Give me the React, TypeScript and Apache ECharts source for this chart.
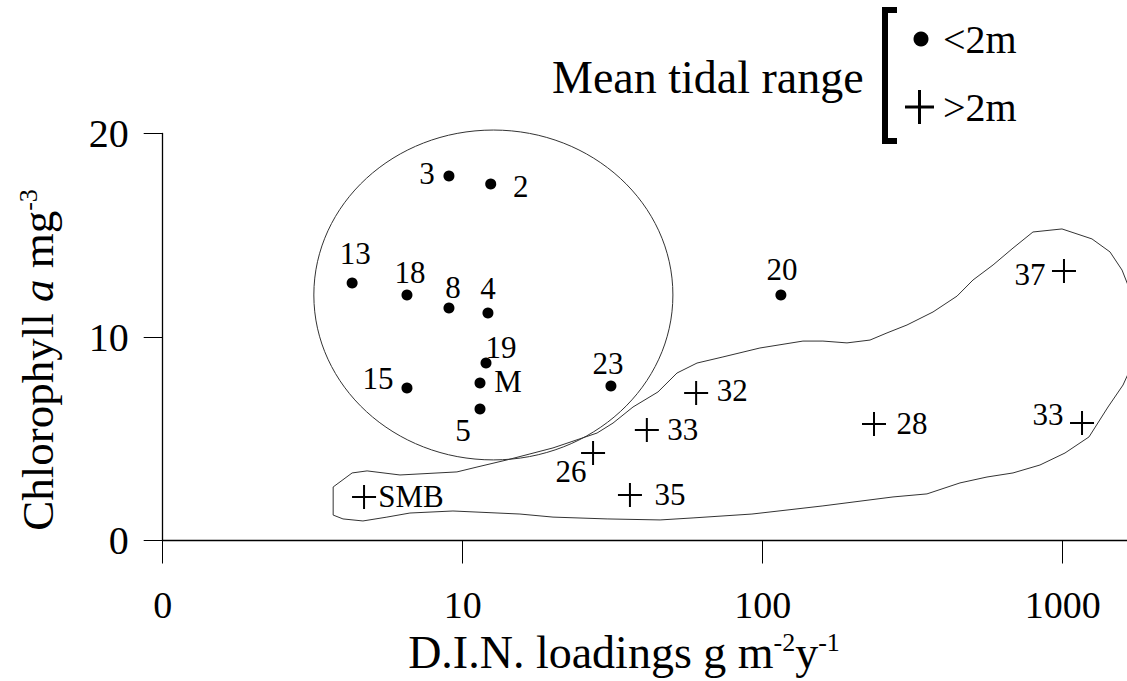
import React, { useEffect, useRef } from "react";
import * as echarts from "echarts";

// ---- data ----
const lowTideNames = ["3", "2", "13", "18", "8", "4", "19", "M", "15", "5", "23", "20"];
const lowTideDIN = [9.0, 12.4, 4.28, 6.52, 9.0, 12.14, 11.96, 11.42, 6.52, 11.42, 31.2, 115];
const lowTideChl = [17.91, 17.52, 12.65, 12.06, 11.43, 11.18, 8.72, 7.74, 7.49, 6.46, 7.59, 12.06];

const highTideNames = ["37", "32", "33", "28", "33", "26", "35", "SMB"];
const highTideDIN = [1010, 60, 41.1, 235, 1160, 27.2, 36.1, 4.69];
const highTideChl = [13.24, 7.25, 5.43, 5.72, 5.77, 4.3, 2.24, 2.14];

// outline enclosing the >2m estuaries
const envelopeDIN = [3.7, 4.28, 4.8, 6.18, 9.57, 11.16, 14.05, 20.0, 28.04, 31.7, 36.96, 44.77, 51.8, 60.4, 73.7, 97.9, 136.2, 158.8, 191, 227.9, 259.6, 302.7, 369.6, 444.4, 502.3, 586, 683, 796, 994.7, 1252, 1438, 1577, 1675, 1714, 1675, 1589, 1416, 1224, 1018, 840, 683, 559.4, 454.7, 352.9, 271.9, 158.8, 92.1, 58.6, 45.5, 30.3, 20.0, 15.52, 9.28, 6.67, 5.59, 4.65, 3.99, 3.7, 3.7];
const envelopeChl = [2.63, 3.32, 3.42, 3.22, 3.37, 3.61, 3.96, 4.55, 5.28, 5.77, 6.56, 7.3, 8.23, 8.72, 9.02, 9.46, 9.8, 9.8, 9.71, 9.85, 10.2, 10.59, 11.23, 12.01, 12.8, 13.54, 14.37, 15.16, 15.31, 14.82, 14.18, 13.29, 12.31, 10.34, 8.38, 7.64, 6.56, 5.09, 4.3, 3.71, 3.32, 3.12, 2.83, 2.29, 2.14, 1.7, 1.3, 1.11, 1.01, 1.06, 1.15, 1.3, 1.45, 1.35, 1.15, 0.96, 1.06, 1.25, 2.63];

// ellipse enclosing the <2m estuaries (bounds in data units)
const ellipseDIN = [3.19, 50.2];
const ellipseChl = [3.96, 20.17];

const xTickValues = [1, 10, 100, 1000];
const xTickLabels = ["0", "10", "100", "1000"];

// ---- label placement (style) ----
const lowTideLabelOffsets = [[-22, -3], [30, 3], [3, -30], [3, -23], [4, -20], [0, -24], [15, -16], [28, -1], [-29, -10], [-17, 21], [-3, -23], [1, -26]];
const highTideLabelOffsets = [[-34, 3], [36, -2], [36, 0], [38, -1], [-34, -9], [-22, 19], [40, 0], [47, 0]];

const FONT = "'Liberation Serif', 'Times New Roman', 'DejaVu Serif', serif";
const INK = "#000";
const PLUS_PATH = "path://M-1,-12 L1,-12 L1,12 L-1,12 Z M-12,-1 L12,-1 L12,1 L-12,1 Z";

export default function App() {
  const ref = useRef<HTMLDivElement>(null);

  useEffect(() => {
    if (!ref.current) return;
    const chart = echarts.init(ref.current, null, { renderer: "svg" });

    const pointLabel = {
      show: true,
      position: "inside",
      formatter: "{b}",
      fontFamily: FONT,
      fontSize: 31,
      color: INK,
      opacity: 1,
      textBorderWidth: 0,
      textBorderColor: "transparent",
    };

    const option: any = {
      animation: false,
      backgroundColor: "#fff",
      grid: { left: 162.7, right: 0, top: 133.5, bottom: 140.5, containLabel: false },
      xAxis: {
        type: "log",
        logBase: 10,
        min: 1,
        max: 1769,
        splitLine: { show: false },
        axisLine: { show: true, onZero: true, lineStyle: { color: INK, width: 1.3 } },
        axisTick: { show: true, length: 23, lineStyle: { color: INK, width: 1 } },
        axisLabel: {
          show: true,
          showMaxLabel: false,
          margin: 45,
          fontFamily: FONT,
          fontSize: 38,
          color: INK,
          formatter: (v: number) => {
            const i = xTickValues.indexOf(Math.round(v));
            return i >= 0 && Math.abs(v - xTickValues[i]) < 1e-6 ? xTickLabels[i] : "";
          },
        },
      },
      yAxis: {
        type: "value",
        min: 0,
        max: 20,
        interval: 10,
        splitLine: { show: false },
        axisLine: { show: true, onZero: false, lineStyle: { color: INK, width: 1.3 } },
        axisTick: { show: true, length: 19, lineStyle: { color: INK, width: 1 } },
        axisLabel: {
          margin: 34,
          fontFamily: FONT,
          fontSize: 40,
          color: INK,
          padding: [8, 0, 0, 0],
        },
      },
      series: [
        {
          type: "line",
          name: "envelope",
          silent: true,
          symbol: "none",
          clip: true,
          lineStyle: { color: "#333", width: 1 },
          data: envelopeDIN.map((x, i) => [x, envelopeChl[i]]),
          z: 1,
        },
        {
          type: "custom",
          name: "ellipse",
          silent: true,
          clip: false,
          coordinateSystem: "cartesian2d",
          encode: { x: [0, 1], y: [2, 3] },
          data: [[ellipseDIN[0], ellipseDIN[1], ellipseChl[0], ellipseChl[1]]],
          renderItem: (_params: any, api: any) => {
            const a = api.coord([api.value(0), api.value(2)]);
            const b = api.coord([api.value(1), api.value(3)]);
            return {
              type: "ellipse",
              shape: {
                cx: (a[0] + b[0]) / 2,
                cy: (a[1] + b[1]) / 2,
                rx: Math.abs(b[0] - a[0]) / 2,
                ry: Math.abs(b[1] - a[1]) / 2,
              },
              style: { fill: "none", stroke: "#333", lineWidth: 1 },
            };
          },
          z: 1,
        },
        {
          type: "scatter",
          name: "<2m",
          symbol: "circle",
          symbolSize: 11,
          itemStyle: { color: INK, opacity: 1 },
          label: pointLabel,
          data: lowTideDIN.map((x, i) => ({
            value: [x, lowTideChl[i]],
            name: lowTideNames[i],
            label: { offset: lowTideLabelOffsets[i] },
          })),
          z: 3,
        },
        {
          type: "scatter",
          name: ">2m",
          symbol: PLUS_PATH,
          symbolSize: 24,
          itemStyle: { color: INK, opacity: 1 },
          label: pointLabel,
          data: highTideDIN.map((x, i) => ({
            value: [x, highTideChl[i]],
            name: highTideNames[i],
            label: { offset: highTideLabelOffsets[i] },
          })),
          z: 3,
        },
      ],
      graphic: [
        {
          type: "text",
          x: 38,
          y: 360,
          rotation: Math.PI / 2,
          style: {
            text: "{n|Chlorophyll }{i|a}{n| mg}{s|-3}",
            align: "center",
            verticalAlign: "middle",
            fill: INK,
            rich: {
              n: { fontFamily: FONT, fontSize: 45, fill: INK, lineHeight: 46 },
              i: { fontFamily: FONT, fontSize: 45, fontStyle: "italic", fill: INK, lineHeight: 46 },
              s: { fontFamily: FONT, fontSize: 26, fill: INK, verticalAlign: "top", lineHeight: 46 },
            },
          },
        },
        {
          type: "text",
          x: 624,
          y: 652,
          style: {
            text: "{n|D.I.N. loadings g m}{s|-2}{n|y}{s|-1}",
            align: "center",
            verticalAlign: "middle",
            fill: INK,
            rich: {
              n: { fontFamily: FONT, fontSize: 46, fill: INK, lineHeight: 46 },
              s: { fontFamily: FONT, fontSize: 26, fill: INK, verticalAlign: "top", lineHeight: 46 },
            },
          },
        },
        {
          type: "text",
          x: 552,
          y: 77,
          style: {
            text: "Mean tidal range",
            fontFamily: FONT,
            fontSize: 46,
            fill: INK,
            align: "left",
            verticalAlign: "middle",
          },
        },
        {
          type: "polyline",
          shape: { points: [[897, 10], [885, 10], [885, 141], [897, 141]] },
          style: { stroke: INK, lineWidth: 6, fill: null, lineJoin: "miter" },
        },
        { type: "circle", shape: { cx: 921, cy: 39, r: 7.5 }, style: { fill: INK } },
        { type: "rect", shape: { x: 905, y: 105.5, width: 29, height: 3 }, style: { fill: INK } },
        { type: "rect", shape: { x: 918, y: 90, width: 3, height: 34 }, style: { fill: INK } },
        {
          type: "text",
          x: 943,
          y: 39,
          style: { text: "<2m", fontFamily: FONT, fontSize: 40, fill: INK, align: "left", verticalAlign: "middle" },
        },
        {
          type: "text",
          x: 943,
          y: 107,
          style: { text: ">2m", fontFamily: FONT, fontSize: 40, fill: INK, align: "left", verticalAlign: "middle" },
        },
      ],
    };

    chart.setOption(option);
    return () => chart.dispose();
  }, []);

  return (
    <div
      ref={ref}
      style={{ position: "fixed", left: 0, top: 0, width: 1137, height: 681, background: "#fff" }}
    />
  );
}
